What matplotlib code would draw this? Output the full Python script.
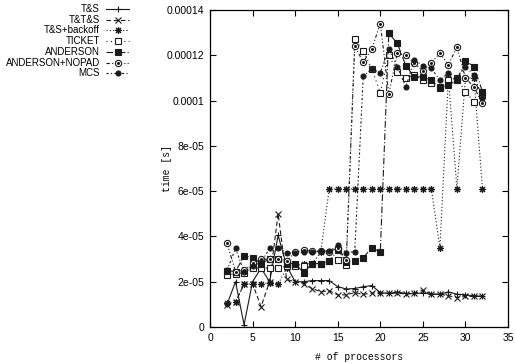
import numpy as np
import matplotlib
matplotlib.use("Agg")
import matplotlib.pyplot as plt
from matplotlib.lines import Line2D
from matplotlib.ticker import FuncFormatter

plt.rcParams['font.family'] = ['Liberation Sans', 'DejaVu Sans']

# number of processors
procs = np.arange(2, 33)

# times, in units of 1e-5 s
ts = [1.0, 2.0, 0.1, 2.0, 2.6, 2.0, 4.05, 2.7, 2.0, 2.0, 2.05, 2.05, 2.05, 1.78, 1.68,
      1.7, 1.78, 1.83, 1.52, 1.48, 1.55, 1.48, 1.48, 1.5, 1.45, 1.45, 1.55, 1.45, 1.42, 1.38, 1.36]
tts = [0.95, 1.1, 1.9, 1.9, 0.9, 2.0, 5.0, 2.1, 2.0, 1.9, 1.7, 1.56, 1.6, 1.42, 1.42,
       1.52, 1.44, 1.5, 1.52, 1.48, 1.5, 1.45, 1.48, 1.63, 1.45, 1.45, 1.38, 1.3, 1.35, 1.35, 1.35]
backoff = [1.05, 1.1, 1.9, 1.9, 1.9, 1.95, 1.9, 2.6, 2.7, 2.8, 2.8, 3.3, 6.1, 6.1, 6.1,
           6.1, 6.1, 6.1, 6.1, 6.1, 6.1, 6.1, 6.1, 6.1, 6.1, 3.5, 11.0, 6.1, 11.0, 11.0, 6.1]
ticket = [2.3, 2.35, 2.4, 2.6, 2.6, 2.6, 2.6, 2.7, 2.7, 2.7, 2.8, 2.8, 2.9, 2.95, 2.72,
          12.7, 12.2, 11.4, 10.35, 12.0, 11.27, 11.0, 11.13, 10.9, 10.76, 10.6, 10.9, 11.0, 10.4, 9.95, 10.25]
anderson = [2.49, 2.45, 3.14, 3.06, 2.8, 3.0, 3.0, 2.8, 2.8, 2.4, 2.8, 2.8, 2.9, 3.4, 2.88,
            2.9, 3.06, 3.5, 3.3, 12.97, 12.53, 11.54, 11.05, 11.05, 10.9, 10.54, 10.7, 10.9, 11.76, 11.5, 10.4]
nopad = [3.69, 2.45, 2.5, 2.81, 2.99, 3.0, 3.0, 2.9, 3.3, 3.4, 3.35, 3.35, 3.3, 3.5, 2.95,
         12.4, 11.7, 12.28, 13.4, 10.29, 12.1, 12.0, 11.65, 11.3, 11.67, 12.1, 11.57, 12.38, 11.0, 10.6, 9.88]
mcs = [2.5, 3.47, 2.45, 2.7, 2.85, 3.47, 3.5, 3.28, 3.25, 3.3, 3.3, 3.35, 3.35, 3.6, 3.28,
       3.33, 11.08, 11.4, 11.23, 12.26, 11.5, 10.6, 11.8, 11.54, 11.42, 10.9, 11.23, 11.0, 11.5, 11.13, 10.1]

labels = ['T&S', 'T&T&S', 'T&S+backoff', 'TICKET', 'ANDERSON', 'ANDERSON+NOPAD', 'MCS']
series = [ts, tts, backoff, ticket, anderson, nopad, mcs]

# (dashes, marker, size, filled, dot inside)
styles = [
    (None, '+', 5, True, False),
    ((4, 2.5), 'x', 4, True, False),
    ((1, 2), (8, 2, 0), 5, True, False),
    ((1, 3), 's', 4, False, False),
    ((6, 2, 1, 2), 's', 4, True, False),
    ((3, 2, 1, 2, 1, 2), 'o', 4.5, False, True),
    ((2, 2, 1, 2), 'o', 3.6, True, False),
]

W, H = 516, 364
fig = plt.figure(figsize=(W / 100, H / 100), dpi=100)
ax = fig.add_axes([210 / W, 37 / H, 298 / W, 317 / H])

col = '0.1'


def draw(target, x, y, st, transform=None, every=None):
    dashes, mk, ms, filled, dot = st
    kw = dict(color=col, lw=0.8, marker=mk, ms=ms, mew=0.8,
              mfc=col if filled else 'white', mec=col)
    if transform is not None:
        kw['transform'] = transform
    if every is not None:
        kw['markevery'] = every
    if dashes:
        kw['dashes'] = dashes
    kw2 = dict(color=col, ls='none', marker='o', ms=1.2, mfc=col, mec=col)
    if transform is not None:
        kw2['transform'] = transform
    if every is not None:
        kw2['markevery'] = every
    if hasattr(target, 'plot'):
        target.plot(x, y, **kw)
        if dot:
            target.plot(x, y, **kw2)
    else:
        target.add_artist(Line2D(x, y, **kw))
        if dot:
            target.add_artist(Line2D(x, y, **kw2))


for vals, st in zip(series, styles):
    draw(ax, procs, np.array(vals) * 1e-5, st)

ax.set_xlim(0, 35)
ax.set_ylim(0, 0.00014)
ax.set_xticks(np.arange(0, 36, 5))
ax.set_yticks(np.arange(0, 0.000141, 0.00002))
ax.yaxis.set_major_formatter(FuncFormatter(lambda v, p: '%g' % round(v, 7)))
ax.tick_params(direction='in', length=4, width=0.8, top=True, right=True,
               labelsize=7.5, pad=4)
for s in ax.spines.values():
    s.set_linewidth(0.9)

mono = ['Liberation Mono', 'DejaVu Sans Mono']
ax.set_xlabel('# of processors', family=mono, fontsize=7)
ax.set_ylabel('time [s]', family=mono, fontsize=7)
ax.xaxis.set_label_coords(0.5, -0.079)
ax.yaxis.set_label_coords(-0.128, 0.5)

# legend, top left outside the axes
for i, (lab, st) in enumerate(zip(labels, styles)):
    yp = 1 - (9 + 10.7 * i) / H
    fig.text(100 / W, yp, lab, ha='right', va='center', fontsize=7)
    draw(fig, [106 / W, 117.5 / W, 129 / W], [yp, yp, yp], st,
         transform=fig.transFigure, every=[1])

fig.savefig('out.png', dpi=100)
